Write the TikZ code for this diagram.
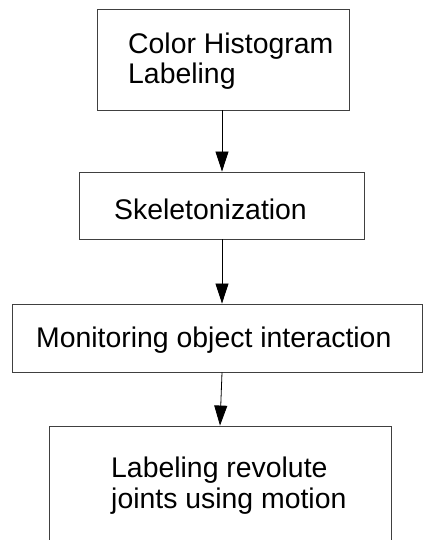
\documentclass[tikz,border=0pt]{standalone}
\usepackage{fontspec}
\setmainfont{Liberation Sans}
\usetikzlibrary{arrows.meta}
\begin{document}
\begin{tikzpicture}
[x=1pt,y=-1pt,
  boxdecorate/.style={shape=rectangle,inner sep=0pt,draw=black!75,line width=0.9pt},%
  textdecorate/.style={anchor=base west,inner sep=0pt,align=left,font=\fontsize{28.4}{30.5}\selectfont},%
  arrowdecorate/.style={-{Triangle[length=20pt,width=13pt]},line width=0.8pt}]
\useasboundingbox (0,0) rectangle (423,540);
\clip (0,0) rectangle (423,540);
%% boxes
\foreach \boxname/\xa/\ya/\xb/\yb in {b1/97/9/349/110, b2/79/172/364/239, b3/12/304/422/372, b4/49/426/391/560} {
  \node (\boxname) at ({(\xa+\xb)/2},{(\ya+\yb)/2}) [boxdecorate,minimum width={(\xb-\xa)*1pt},minimum height={(\yb-\ya)*1pt}] {};
}
%% texts (base is the last line)
\node (t1) at (128,84) [textdecorate] {Color Histogram\\Labeling};
\node (t2) at (114,219) [textdecorate] {Skeletonization};
\node (t3) at (36,347) [textdecorate] {Monitoring object interaction};
\node (t4) at (111,508) [textdecorate] {Labeling revolute\\joints using motion};
%% arrows
\coordinate (s1) at (222,0);
\coordinate (s2) at (220,0);
\path
\foreach \startnode/\endnode/\topx/\tipx in {b1/b2/s1/s1, b2/b3/s1/s1, b3/b4/s1/s2} {
  (\startnode.south -| \topx) edge[arrowdecorate] (\endnode.north -| \tipx)
};
\end{tikzpicture}
\end{document}
